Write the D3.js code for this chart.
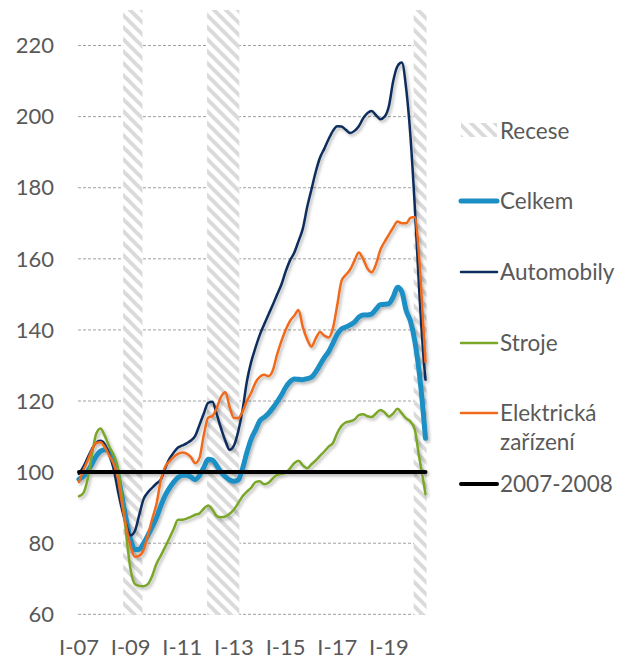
<!DOCTYPE html>
<html><head><meta charset="utf-8">
<script src="https://cdn.jsdelivr.net/npm/d3@7"></script>
<style>
html,body{margin:0;padding:0;background:#fff;}
svg{display:block;font-family:Lato,"Open Sans",sans-serif;}
</style></head>
<body>
<svg id="chart" width="621" height="659"></svg>
<script>
// month indices (0 = January 2007), sampled every two months, plus the last month (June 2020)
const monthIdx = d3.range(0, 161, 2).concat([161]);

const celkem = [98,98.8,100.2,102.3,104.5,105.9,106.3,105.8,104,99.5,93,86.5,81,78.2,78.3,80,82.2,84.6,87.2,90.5,93.4,95.5,97.2,98.5,99.1,99.1,98.6,97.9,99.1,101.3,103.6,103.4,101.8,100,98.7,97.8,97.4,97.8,101,105.5,109.3,111.8,114.4,115.4,116.5,118,119.7,121.6,123.8,125.4,126.2,126.1,126,126.3,126.7,128.2,130.2,132.2,133.9,136.3,138.8,140.3,140.8,141.4,142.2,143.6,144.2,144.2,144.5,145.8,147.1,147.2,147.4,149.3,152,150.8,145.5,142.5,137,128.5,116.5,109.5];

const automobily = [99.5,101.5,104,106.5,108.3,108.8,107.8,105,101.2,95,89.5,85,82.2,83.5,88,92.4,94.3,95.6,96.8,97.9,101,103.7,105.5,106.9,107.5,108.1,108.9,110.2,113.3,116.5,119.5,119.8,116.3,112.3,108.8,106.3,107.5,111.5,117.5,125.5,131,135,138.6,141.5,144.3,147,149.9,152.7,156.4,159.5,161.7,165,168.5,174.5,179.5,184.5,188.5,191,193.7,196,197.3,197.2,196.3,195.4,196,197.3,199.5,201,201.6,200.4,199.3,200,203,210,214.2,215.2,208,194.5,175,152,133,126];

const stroje = [93.2,94.1,98,104.8,110.8,112.3,110.2,107.3,104.9,101.4,93,82,72.5,68.5,68,67.9,68.5,70.8,74.2,76.5,78.9,81.4,84,86.6,86.6,86.9,87.4,88,88.4,89.7,90.6,89.5,87.6,87.3,87.5,88.3,89.5,91.3,93.2,94.5,95.6,97.2,97.4,96.6,97,98.2,99.2,99.5,99.8,101,102.5,103.2,101.9,101.1,102.2,103.3,104.6,105.8,107.2,108.2,111,113,114,114.3,114.8,116,116.3,115.7,115.5,116.5,117.5,116.8,115.6,116.5,117.8,116.5,115.1,114.2,112,104.5,97.5,93.8];

const elektricka = [97.2,100.5,103.2,106.2,108.2,108.4,107,104.7,102.5,98.5,91,84.5,79,76.2,76.5,78.1,82.2,86.8,91,97.7,101.5,103,104.3,105.1,105.5,105.2,104.2,102.5,104,110.5,115.3,115.8,118,121.2,122.5,118.3,115.2,115.2,117,120,122.3,125.2,126.8,127.4,127,128.5,133,136.8,140,142.5,144,145.6,140.8,137.4,135.3,137.6,139.4,138.4,137.9,140.5,147,153.8,155.5,157,159.5,161.8,160,157.3,156.2,158.5,162.5,164.8,166.8,168.8,170.5,170,170,171.5,171.8,161,141,131];

// 2007-2008 average = 100 (first and last month)
const benchMonths = [0, 161];
const benchValues = [100, 100];

// recession periods as [first month, last month] indices
const recessions = [[21, 29], [60, 74], [156, 161]];

const yTicks = [60, 80, 100, 120, 140, 160, 180, 200, 220];
const xTickMonths = [0, 24, 48, 72, 96, 120, 144];
const xTickLabels = ["I-07", "I-09", "I-11", "I-13", "I-15", "I-17", "I-19"];

const seriesNames = ["Celkem", "Automobily", "Stroje", "Elektrická zařízení", "2007-2008"];
const seriesColors = ["#1b8fc4", "#0f2d5c", "#7aa62a", "#f06b1e", "#000000"];
const seriesWidths = [5, 2.5, 2.5, 2.5, 4];

const svg = d3.select("#chart");
const plotL = 78, plotR = 427;
const x = d3.scaleLinear().domain([0, 161]).range([79, 425.5]);
const y = d3.scaleLinear().domain([60, 230]).range([614.3, 10]);

const defs = svg.append("defs");
const pat = defs.append("pattern").attr("id", "hatch").attr("patternUnits", "userSpaceOnUse")
  .attr("width", 12).attr("height", 12);
pat.append("rect").attr("width", 12).attr("height", 12).attr("fill", "#fff");
pat.append("path").attr("d", "M-6,-6 L18,18 M-6,6 L6,18 M6,-6 L18,6")
  .attr("stroke", "#dadada").attr("stroke-width", 3.8);
const f = defs.append("filter").attr("id", "shadow").attr("x", "-10%").attr("y", "-10%").attr("width", "130%").attr("height", "130%");
f.append("feDropShadow").attr("dx", 1.8).attr("dy", 2.2).attr("stdDeviation", 1.4)
  .attr("flood-color", "#000").attr("flood-opacity", 0.28);

// grid lines
svg.append("g").selectAll("line").data(yTicks).join("line")
  .attr("x1", plotL).attr("x2", plotR)
  .attr("y1", d => y(d)).attr("y2", d => y(d))
  .attr("stroke", "#a0a0a0").attr("stroke-width", 1).attr("stroke-dasharray", "3,2");

// recession bars
svg.append("g").selectAll("rect").data(recessions).join("rect")
  .attr("x", d => x(d[0] - 0.5))
  .attr("width", d => Math.min(plotR, x(d[1] + 0.5)) - x(d[0] - 0.5))
  .attr("y", y(230)).attr("height", y(60) - y(230) + 0.5)
  .attr("fill", "url(#hatch)");

// y axis labels
svg.append("g").selectAll("text").data(yTicks).join("text")
  .attr("x", 54).attr("y", d => y(d)).attr("dy", "0.35em")
  .attr("text-anchor", "end").attr("font-size", 22).attr("fill", "#595959")
  .text(d => d);

// x axis labels
svg.append("g").selectAll("text").data(xTickMonths).join("text")
  .attr("x", d => x(d)).attr("y", 655)
  .attr("text-anchor", "middle").attr("font-size", 22).attr("fill", "#595959")
  .text((d, i) => xTickLabels[i]);

// lines
const line = d3.line().x(d => x(d[0])).y(d => y(d[1])).curve(d3.curveMonotoneX);
const seriesData = [celkem, automobily, stroje, elektricka].map(arr => arr.map((v, i) => [monthIdx[i], v]));
seriesData.push(benchValues.map((v, i) => [benchMonths[i], v]));

svg.append("g").attr("filter", "url(#shadow)").selectAll("path").data(seriesData).join("path")
  .attr("d", line).attr("fill", "none")
  .attr("stroke", (d, i) => seriesColors[i])
  .attr("stroke-width", (d, i) => seriesWidths[i])
  .attr("stroke-linejoin", "round").attr("stroke-linecap", "round");

// legend
const lg = svg.append("g");
lg.append("rect").attr("x", 461).attr("y", 123).attr("width", 36).attr("height", 14).attr("fill", "url(#hatch)");
lg.append("text").attr("x", 500).attr("y", 131).attr("dy", "0.35em").attr("font-size", 22.5).attr("fill", "#595959").text("Recese");
const legY = [201, 272, 343, 413, 484];
seriesNames.forEach((name, i) => {
  lg.append("line").attr("x1", 461).attr("x2", 497).attr("y1", legY[i]).attr("y2", legY[i])
    .attr("stroke", seriesColors[i]).attr("stroke-width", seriesWidths[i]).attr("stroke-linecap", "round");
  const parts = name === "Elektrická zařízení" ? ["Elektrická", "zařízení"] : [name];
  parts.forEach((p, j) => {
    lg.append("text").attr("x", 500).attr("y", legY[i] + j * 29).attr("dy", "0.35em")
      .attr("font-size", 22.5).attr("fill", "#595959").text(p);
  });
});
</script>
</body></html>
